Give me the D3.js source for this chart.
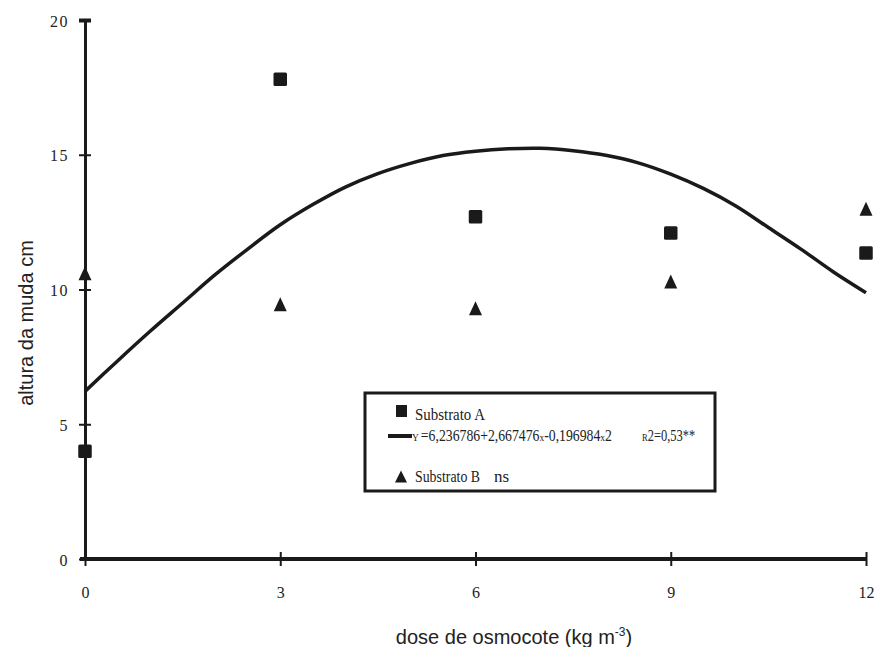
<!DOCTYPE html>
<html><head><meta charset="utf-8">
<script src="https://cdn.jsdelivr.net/npm/d3@7"></script>
<style>body{margin:0;background:#fff}</style>
</head><body>
<svg id="c" width="874" height="647"></svg>
<script>
// ---- data ----
const doses = [0, 3, 6, 9, 12];
const substratoA = [4.0, 17.8, 12.7, 12.1, 11.35];
const substratoB = [10.6, 9.45, 9.3, 10.3, 13.0];
const curveX = [0,0.5,1,1.5,2,2.5,3,3.5,4,4.5,5,5.5,6,6.5,7,7.5,8,8.5,9,9.5,10,10.5,11,11.5,12];
const curveY = [6.22,7.35,8.45,9.5,10.55,11.5,12.4,13.15,13.8,14.3,14.68,14.97,15.13,15.22,15.24,15.15,14.98,14.7,14.28,13.75,13.1,12.3,11.5,10.65,9.88];
const yTicks = [0, 5, 10, 15, 20];
const xTicks = [0, 3, 6, 9, 12];
const xTitle = "dose de osmocote (kg m";
const yTitle = "altura da muda cm";

const svg = d3.select("#c");
const x = d3.scaleLinear().domain([0, 12]).range([85, 866]);
const y = d3.scaleLinear().domain([0, 20]).range([559, 20]);
const serif = "'Liberation Serif','Times New Roman',serif";
const sans = "'Liberation Sans',Arial,sans-serif";

// Y axis
const gy = svg.append("g").attr("transform", `translate(${x(0)},0)`)
  .call(d3.axisLeft(y).tickValues(yTicks).tickSize(0).tickPadding(16));
gy.select(".domain").attr("stroke", "#1a1a1a").attr("stroke-width", 3);
gy.selectAll(".tick text").attr("font-family", serif).attr("font-size", 16)
  .attr("letter-spacing", 1.5).attr("fill", "#222").attr("dy", "0.38em");
gy.selectAll(".tick").append("line").attr("x1", -6).attr("x2", 6)
  .attr("stroke", "#1a1a1a").attr("stroke-width", d => d === 20 ? 4 : 2);

// X axis
const gx = svg.append("g").attr("transform", `translate(0,${y(0)})`)
  .call(d3.axisBottom(x).tickValues(xTicks).tickSize(0).tickPadding(33));
gx.select(".domain").attr("stroke", "#1a1a1a").attr("stroke-width", 4)
  .attr("d", `M${x(0) - 5},0H${x(12) + 1}`);
gx.selectAll(".tick text").attr("font-family", serif).attr("font-size", 16)
  .attr("fill", "#222").attr("dy", "0.4em");
gx.selectAll(".tick").append("line").attr("y1", -7).attr("y2", 7)
  .attr("stroke", "#1a1a1a").attr("stroke-width", 2);

// fitted curve
const line = d3.line().x(d => x(d[0])).y(d => y(d[1])).curve(d3.curveCatmullRom);
svg.append("path").datum(curveX.map((v, i) => [v, curveY[i]]))
  .attr("d", line).attr("fill", "none").attr("stroke", "#1a1a1a")
  .attr("stroke-width", 3.5).attr("stroke-linejoin", "round");

// markers
const sq = 13.5;
svg.selectAll("rect.a").data(doses).join("rect").attr("class", "a")
  .attr("x", d => x(d) - sq / 2).attr("y", (d, i) => y(substratoA[i]) - sq / 2)
  .attr("width", sq).attr("height", sq).attr("rx", 1.5).attr("fill", "#1a1a1a");
const tri = (cx, cy, w = 13, h = 14) => `M${cx},${cy - h / 2}L${cx + w / 2},${cy + h / 2}L${cx - w / 2},${cy + h / 2}Z`;
svg.selectAll("path.b").data(doses).join("path").attr("class", "b")
  .attr("d", (d, i) => tri(x(d), y(substratoB[i]))).attr("fill", "#1a1a1a");

// legend
const lg = svg.append("g");
lg.append("rect").attr("x", 365).attr("y", 393).attr("width", 350).attr("height", 98)
  .attr("fill", "#fff").attr("stroke", "#1a1a1a").attr("stroke-width", 3);
lg.append("rect").attr("x", 396).attr("y", 405).attr("width", 11).attr("height", 12).attr("fill", "#1a1a1a");
lg.append("text").attr("x", 415).attr("y", 420).attr("font-family", serif).attr("font-size", 17)
  .attr("textLength", 70).attr("lengthAdjust", "spacingAndGlyphs")
  .attr("fill", "#222").text("Substrato A");
lg.append("rect").attr("x", 388).attr("y", 434).attr("width", 24).attr("height", 4).attr("fill", "#1a1a1a");
const eq = lg.append("g").attr("transform", "translate(412,441) scale(0.86,1)")
  .append("text").attr("font-family", serif).attr("font-size", 16).attr("fill", "#222");
eq.append("tspan").attr("font-size", 11).text("Y ");
eq.append("tspan").text("=6,236786+2,667476");
eq.append("tspan").attr("font-size", 11).text("x");
eq.append("tspan").text("-0,196984");
eq.append("tspan").attr("font-size", 11).text("x");
eq.append("tspan").text("2");
const r2 = lg.append("g").attr("transform", "translate(642,441) scale(0.78,1)")
  .append("text").attr("font-family", serif).attr("font-size", 16).attr("fill", "#222");
r2.append("tspan").attr("font-size", 11).text("R");
r2.append("tspan").text("2=0,53**");
lg.append("path").attr("d", tri(401, 476.5, 12, 12)).attr("fill", "#1a1a1a");
lg.append("text").attr("x", 415).attr("y", 482).attr("font-family", serif).attr("font-size", 17)
  .attr("textLength", 65).attr("lengthAdjust", "spacingAndGlyphs")
  .attr("fill", "#222").text("Substrato B");
lg.append("text").attr("x", 494).attr("y", 482).attr("font-family", serif).attr("font-size", 17)
  .attr("fill", "#222").text("ns");

// axis titles
const xt = svg.append("text").attr("x", 514).attr("y", 644).attr("text-anchor", "middle")
  .attr("font-family", sans).attr("font-size", 20).attr("fill", "#222");
xt.append("tspan").text(xTitle);
xt.append("tspan").attr("font-size", 12).attr("dy", -8).text("-3");
xt.append("tspan").attr("dy", 8).text(")");
svg.append("text").attr("transform", "translate(33,323) rotate(-90)").attr("text-anchor", "middle")
  .attr("font-family", sans).attr("font-size", 20).attr("fill", "#222").text(yTitle);
</script>
</body></html>
